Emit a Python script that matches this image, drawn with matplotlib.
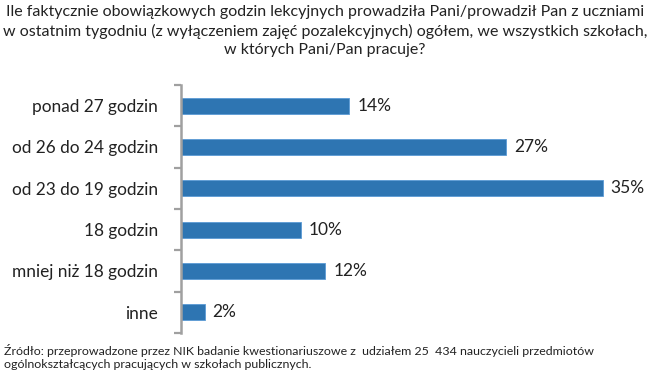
import matplotlib
matplotlib.use("Agg")
import matplotlib.pyplot as plt
import numpy as np

categories = ["ponad 27 godzin", "od 26 do 24 godzin", "od 23 do 19 godzin",
              "18 godzin", "mniej niż 18 godzin", "inne"]
values = [14, 27, 35, 10, 12, 2]
value_labels = ["14%", "27%", "35%", "10%", "12%", "2%"]

title = ("Ile faktycznie obowiązkowych godzin lekcyjnych prowadziła Pani/prowadził Pan z uczniami\n"
         "w ostatnim tygodniu (z wyłączeniem zajęć pozalekcyjnych) ogółem, we wszystkich szkołach,\n"
         "w których Pani/Pan pracuje?")
footer = ("Źródło: przeprowadzone przez NIK badanie kwestionariuszowe z  udziałem 25  434 nauczycieli przedmiotów\n"
          "ogólnokształcących pracujących w szkołach publicznych.")

plt.rcParams['font.family'] = ['Lato', 'DejaVu Sans']

W, H = 650, 377
fig = plt.figure(figsize=(W / 100, H / 100), dpi=100)
left = 180.5 / W
bottom = (H - 333) / H
top = (H - 85) / H
xmax = 38.5
ax = fig.add_axes([left, bottom, (12.07 * xmax) / W, top - bottom])

n = len(categories)
y = np.arange(n)
ax.barh(y, values, height=0.39, color='#2e75b2', edgecolor='#5b9bd5', linewidth=0.6)
for yi, v, lab in zip(y, values, value_labels):
    ax.text(v + 0.65, yi, lab, va='center', ha='left', fontsize=12.5, color='#222222')

ax.set_xlim(0, xmax)
ax.set_ylim(n - 0.5, -0.5)
ax.set_yticks(y)
ax.set_yticklabels(categories, fontsize=12.4, color='#222222')
ax.tick_params(axis='y', which='major', length=0, pad=16)
ax.set_yticks(np.arange(-0.5, n, 1), minor=True)
ax.tick_params(axis='y', which='minor', length=5, width=1.6, color='#a0a0a0', direction='out')
ax.set_xticks([])
for s in ['top', 'right', 'bottom']:
    ax.spines[s].set_visible(False)
ax.spines['left'].set_color('#a0a0a0')
ax.spines['left'].set_linewidth(1.8)

fig.text(0.5, 1 - 5 / H, title, ha='center', va='top', fontsize=11.5,
         color='#222222', linespacing=1.4)
fig.text(4 / W, 1 - 344 / H, footer, ha='left', va='top', fontsize=8.9,
         color='#222222', linespacing=1.25)

fig.savefig("out.png", dpi=100)
